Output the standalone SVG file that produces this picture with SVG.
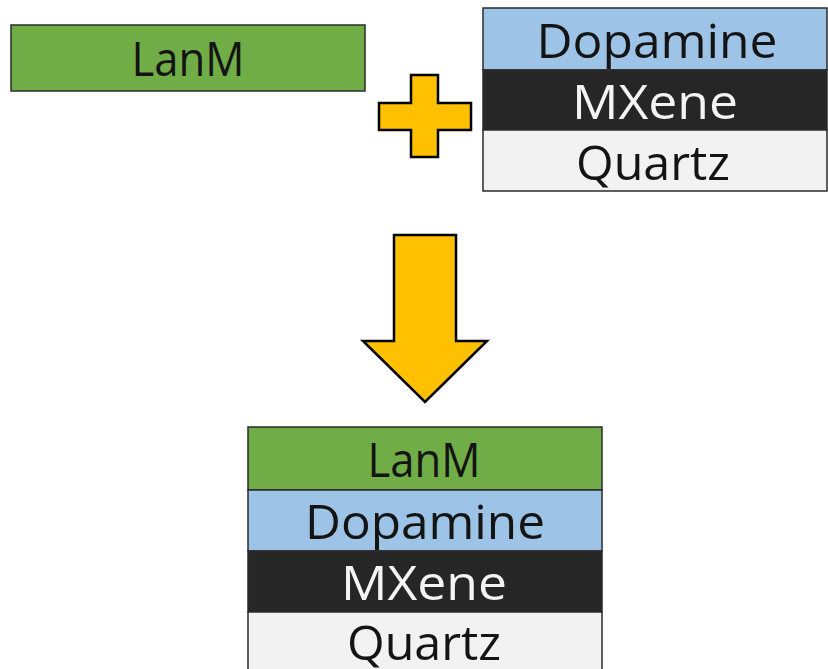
<svg xmlns="http://www.w3.org/2000/svg" width="828" height="669" viewBox="0 0 828 669">
<style>
text{font-family:"Open Sans","Noto Sans","DejaVu Sans",sans-serif;font-size:48px;text-anchor:middle}
.lay{stroke:#2b2b2b;stroke-width:1.5}
.green{fill:#70AD47}.blue{fill:#9DC3E6}.black{fill:#262626}.gray{fill:#F2F2F2}
.dk{fill:#141414}.wt{fill:#F4F4F4}
.sym{fill:#FFC000;stroke:#000;stroke-width:2.5;stroke-linejoin:miter}
</style>
<rect width="828" height="669" fill="#fff"/>
<g id="lanm">
<rect class="lay green" x="11" y="25" width="354" height="66"/>
<text class="dk" x="188" y="76" textLength="113" lengthAdjust="spacingAndGlyphs">LanM</text>
</g>
<g id="substrate">
<rect class="lay blue" x="483" y="8" width="344" height="62"/>
<rect class="lay black" x="483" y="70" width="344" height="60"/>
<rect class="lay gray" x="483" y="130" width="344" height="61"/>
<text class="dk" x="657" y="58" textLength="241" lengthAdjust="spacingAndGlyphs">Dopamine</text>
<text class="wt" x="655" y="119" textLength="166" lengthAdjust="spacingAndGlyphs">MXene</text>
<text class="dk" x="653" y="180" textLength="154" lengthAdjust="spacingAndGlyphs">Quartz</text>
</g>
<g id="connectors">
<path class="sym" d="M411,75 H438 V103 H471 V130 H438 V157 H411 V130 H379 V103 H411 Z"/>
<path class="sym" d="M394,235 H456 V341 H487 L425,402 L363,341 H394 Z"/>
</g>
<g id="result">
<rect class="lay green" x="248" y="427" width="354" height="63"/>
<rect class="lay blue" x="248" y="490" width="354" height="61"/>
<rect class="lay black" x="248" y="551" width="354" height="61"/>
<rect class="lay gray" x="248" y="612" width="354" height="60"/>
<text class="dk" x="424" y="477" textLength="113" lengthAdjust="spacingAndGlyphs">LanM</text>
<text class="dk" x="425" y="539" textLength="240" lengthAdjust="spacingAndGlyphs">Dopamine</text>
<text class="wt" x="424" y="600" textLength="166" lengthAdjust="spacingAndGlyphs">MXene</text>
<text class="dk" x="424" y="660" textLength="154" lengthAdjust="spacingAndGlyphs">Quartz</text>
</g>
</svg>
